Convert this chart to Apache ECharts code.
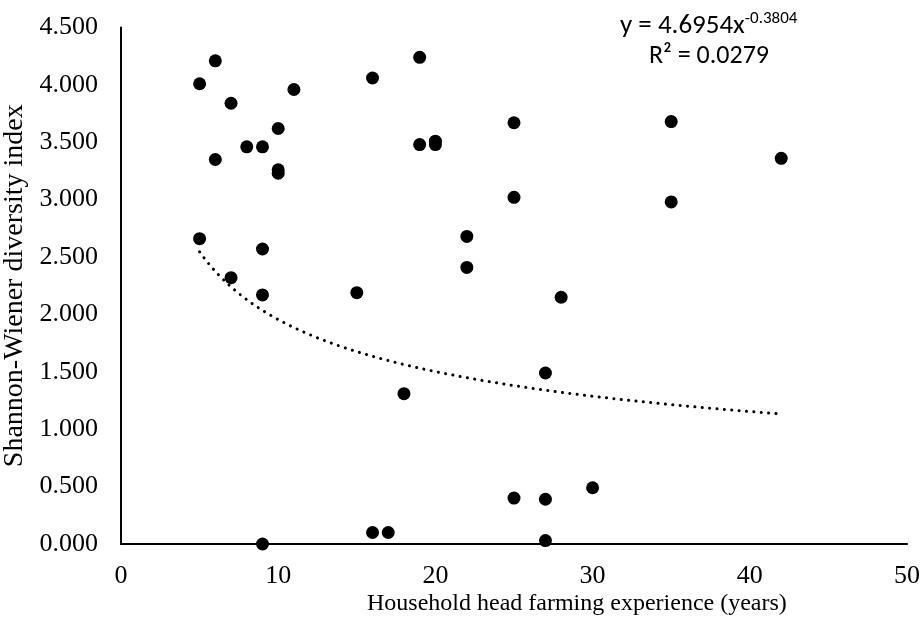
<!DOCTYPE html>
<html>
<head>
<meta charset="utf-8">
<script src="https://cdn.jsdelivr.net/npm/echarts@6/dist/echarts.min.js"></script>
<style>
  html, body { margin: 0; padding: 0; background: #fff; }
  #chart { width: 923px; height: 636px; }
</style>
</head>
<body>
<div id="chart"></div>
<script>
// Household head farming experience (years) for each surveyed farm
const experienceYears = [5, 6, 7, 11, 10, 8, 9, 6, 10, 10, 16, 19, 19, 20, 20, 5, 9, 7, 9, 15,
  25, 35, 25, 35, 22, 22, 28, 18, 27, 9, 16, 17, 25, 27, 30, 27, 42];
// Shannon-Wiener diversity index for the same farms
const diversityIndex = [4.01, 4.21, 3.84, 3.96, 3.62, 3.46, 3.46, 3.35, 3.26, 3.23, 4.06, 4.24, 3.48, 3.51, 3.48, 2.66, 2.57, 2.32, 2.17, 2.19,
  3.67, 3.68, 3.02, 2.98, 2.68, 2.41, 2.15, 1.31, 1.49, 0.00, 0.10, 0.10, 0.40, 0.39, 0.49, 0.03, 3.36];

// Power trendline y = a * x^b, as reported on the chart
const trendA = 4.6954;
const trendB = -0.3804;
const trendR2 = '0.0279';

// Axis tick settings
const xTicks = { min: 0, max: 50, interval: 10 };
const yTicks = { min: 0, max: 4.5, interval: 0.5 };

const points = experienceYears.map((x, i) => [x, diversityIndex[i]]);

// Trendline spans the observed experience range
const xMin = Math.min(...experienceYears);
const xMax = Math.max(...experienceYears);
const trend = [];
const steps = 148;
for (let i = 0; i <= steps; i++) {
  const x = xMin + (xMax - xMin) * i / steps;
  trend.push([x, trendA * Math.pow(x, trendB)]);
}

const serif = '"Liberation Serif", "Times New Roman", serif';
const sans = 'Carlito, Lato, "Liberation Sans", sans-serif';

const chart = echarts.init(document.getElementById('chart'), null, { renderer: 'canvas' });
chart.setOption({
  animation: false,
  backgroundColor: '#ffffff',
  grid: { left: 121, right: 16, top: 27.5, bottom: 92, containLabel: false, outerBoundsMode: 'none' },
  xAxis: {
    type: 'value',
    min: xTicks.min, max: xTicks.max, interval: xTicks.interval,
    axisLine: { show: true, lineStyle: { color: '#000', width: 2 } },
    axisTick: { show: false },
    splitLine: { show: false },
    axisLabel: { color: '#000', fontFamily: serif, fontSize: 26, margin: 19 }
  },
  yAxis: {
    type: 'value',
    min: yTicks.min, max: yTicks.max, interval: yTicks.interval,
    axisLine: { show: true, lineStyle: { color: '#000', width: 2 } },
    axisTick: { show: false },
    splitLine: { show: false },
    axisLabel: {
      color: '#000', fontFamily: serif, fontSize: 26, margin: 23,
      formatter: v => v.toFixed(3)
    },
    name: 'Shannon-Wiener diversity index',
    nameLocation: 'middle',
    nameGap: 84,
    nameTextStyle: { color: '#000', fontFamily: serif, fontSize: 28 }
  },
  graphic: [
    {
      type: 'text', left: 367, top: 592,
      style: { text: 'Household head farming experience (years)', fill: '#000', font: '24px ' + serif }
    },
    {
      type: 'text', left: 620, top: 10,
      style: {
        text: '{m|y = 4.6954x}{s|-0.3804}',
        rich: {
          m: { fontFamily: sans, fontSize: 27, fill: '#000', verticalAlign: 'bottom' },
          s: { fontFamily: sans, fontSize: 17, fill: '#000', verticalAlign: 'top', padding: [0, 0, 13, 0] }
        }
      }
    },
    {
      type: 'text', left: 649, top: 43,
      style: { text: 'R² = ' + trendR2, fill: '#000', font: '26px ' + sans }
    }
  ],
  series: [
    {
      type: 'scatter',
      data: points,
      symbol: 'circle',
      symbolSize: 13,
      itemStyle: { color: '#000', opacity: 1 },
      emphasis: { disabled: true },
      z: 3
    },
    {
      type: 'line',
      data: trend,
      showSymbol: false,
      smooth: false,
      lineStyle: { color: '#000', width: 3, type: [0.1, 7.3], cap: 'round' },
      z: 2
    }
  ]
});
</script>
</body>
</html>
